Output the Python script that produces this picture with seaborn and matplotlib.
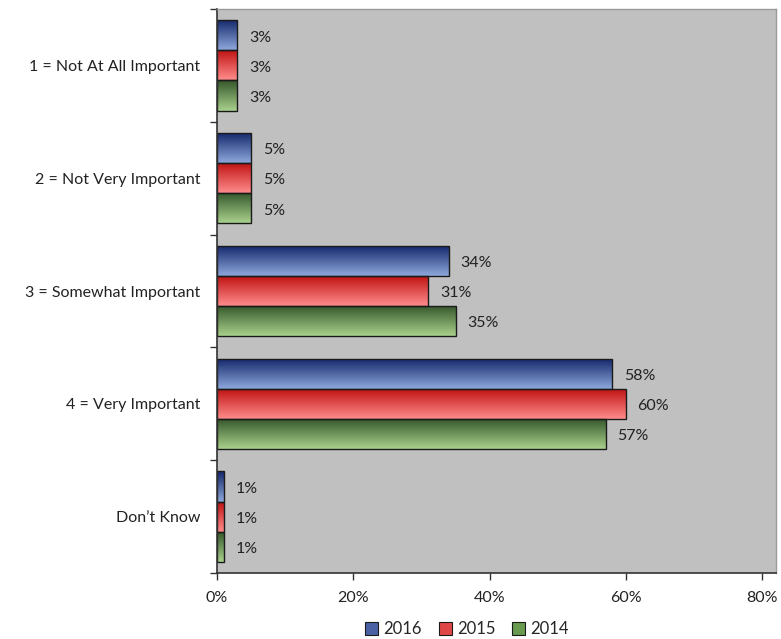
import numpy as np
import pandas as pd
import matplotlib
matplotlib.use("Agg")
import matplotlib.pyplot as plt
import seaborn as sns
from matplotlib.colors import LinearSegmentedColormap
from matplotlib.patches import Patch

categories = ["1 = Not At All Important", "2 = Not Very Important", "3 = Somewhat Important",
              "4 = Very Important", "Don\u2019t Know"]
years = ["2016", "2015", "2014"]
v2016 = [3, 5, 34, 58, 1]
v2015 = [3, 5, 31, 60, 1]
v2014 = [3, 5, 35, 57, 1]

grad = {
    "2016": ("#13266a", "#8ea8dc"),
    "2015": ("#bf1010", "#ff8c8c"),
    "2014": ("#34552a", "#a9d18c"),
}
mid = {"2016": "#4a62a4", "2015": "#e04848", "2014": "#6a9a50"}

rows = []
for y, vals in zip(years, [v2016, v2015, v2014]):
    for c, v in zip(categories, vals):
        rows.append({"cat": c, "year": y, "val": v})
df = pd.DataFrame(rows)

sns.set_theme(style="white")
plt.rcParams["font.family"] = ["Lato", "DejaVu Sans"]

fig = plt.figure(figsize=(7.81, 6.39), dpi=100)
ax = fig.add_axes([217/781, 1-573/639, (776-217)/781, (573-9)/639])
ax.set_facecolor("#c0c0c0")

sns.barplot(data=df, y="cat", x="val", hue="year", order=categories, hue_order=years,
            orient="h", palette=mid, width=0.8, ax=ax, legend=False,
            edgecolor="#1a1a1a", linewidth=1.0)

ax.set_xlim(0, 82)
ax.set_ylim(len(categories) - 0.5, -0.5)

# gradient fills
for container, y in zip(ax.containers, years):
    cmap = LinearSegmentedColormap.from_list("g" + y, [grad[y][0], grad[y][1]])
    for bar, val in zip(container.patches, container.datavalues):
        x0, y0 = bar.get_x(), bar.get_y()
        w, h = bar.get_width(), bar.get_height()
        bar.set_facecolor("none")
        img = np.linspace(0, 1, 64).reshape(-1, 1)
        top, bot = min(y0, y0 + h), max(y0, y0 + h)
        im = ax.imshow(img, cmap=cmap, aspect="auto",
                       extent=[x0, x0 + w, bot, top], origin="upper", zorder=bar.get_zorder() - 0.1)
        im.set_clip_path(bar)
        ax.text(x0 + w + 1.7, (top + bot) / 2 + 0.02, f"{int(val)}%", va="center", ha="left",
                fontsize=11.5, color="#222222")

ax.set_xticks([0, 20, 40, 60, 80])
ax.set_xticklabels(["0%", "20%", "40%", "60%", "80%"], fontsize=11.5, color="#222222")
ax.set_yticks(range(len(categories)))
ax.set_yticklabels(categories, fontsize=11.5, color="#222222")
ax.tick_params(axis="y", length=0, pad=12)
ax.set_yticks(np.arange(-0.5, len(categories)), minor=True)
ax.tick_params(axis="y", which="minor", length=5, width=1, color="#333333", direction="out", left=True)
ax.tick_params(axis="x", length=5, width=1, color="#333333", direction="out", bottom=True, pad=8)
ax.set_xlabel("")
ax.set_ylabel("")

for s in ["left", "bottom"]:
    ax.spines[s].set_color("#333333")
    ax.spines[s].set_linewidth(1.2)
for s in ["top", "right"]:
    ax.spines[s].set_color("#9a9a9a")
    ax.spines[s].set_linewidth(1.0)

handles = [Patch(facecolor=mid[y], edgecolor="#1a1a1a", linewidth=0.8, label=y) for y in years]
fig.legend(handles=handles, loc="center", bbox_to_anchor=(467/781, 1-629/639), ncol=3,
           frameon=False, fontsize=12, handlelength=0.8, handleheight=0.8,
           handletextpad=0.3, columnspacing=1.0)

fig.savefig("out.png", dpi=100)
